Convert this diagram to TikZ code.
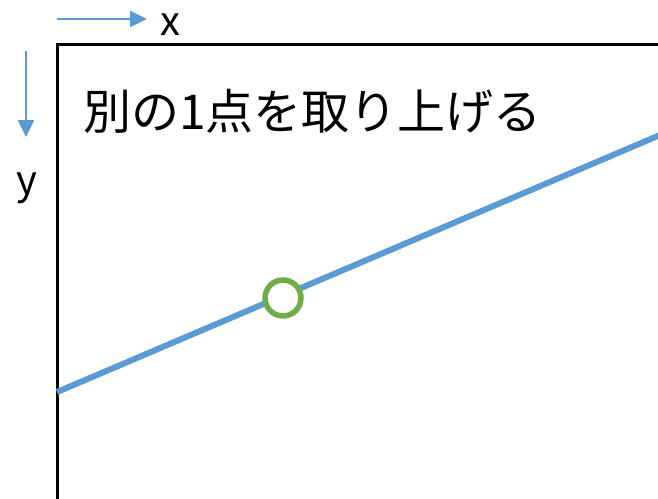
\documentclass[tikz,border=0pt]{standalone}
\usepackage{fontspec}
\setmainfont{Noto Sans CJK JP}
\usetikzlibrary{arrows.meta}
\definecolor{lineblue}{HTML}{5B9BD5}
\definecolor{ptgreen}{HTML}{70AD47}
\tikzset{
  axisarrow/.style={draw=lineblue, line width=2.5pt, -{Triangle[length=17pt,width=16pt]}},
  frameline/.style={draw=black, line width=3pt},
  dataline/.style={draw=lineblue, line width=6pt},
  pt/.style={circle, draw=ptgreen, line width=5.5pt, fill=white, minimum size=36pt, inner sep=0pt},
  lbl/.style={inner sep=0pt, font=\fontsize{40}{48}\selectfont}
}
\begin{document}
\begin{tikzpicture}[x=1pt,y=-1pt]
\useasboundingbox (0,0) rectangle (658,498);
% axis arrows
\coordinate (xs) at (57,19);
\coordinate (xe) at (147,19);
\draw[axisarrow] (xs) -- (xe);
\node[lbl, anchor=base] (xl) at (170,35) {x};
\coordinate (ys) at (26,51);
\coordinate (ye) at (26,137);
\draw[axisarrow] (ys) -- (ye);
\node[lbl, anchor=center] (yl) at (27,188) {y};
% frame
\coordinate (tl) at (57,44);
\coordinate (tr) at (660,44);
\coordinate (bl) at (57,500);
\draw[frameline] (bl) -- (tl) -- (tr);
% title
\node[lbl, anchor=west, font=\fontsize{48}{52}\selectfont] (title) at (83,111) {別の1点を取り上げる};
% data line
\coordinate (p0) at (57,392);
\coordinate (p1) at (660,135);
\draw[dataline] (p0) -- (p1);
\node[pt] (pt) at (283,298) {};
\end{tikzpicture}
\end{document}
